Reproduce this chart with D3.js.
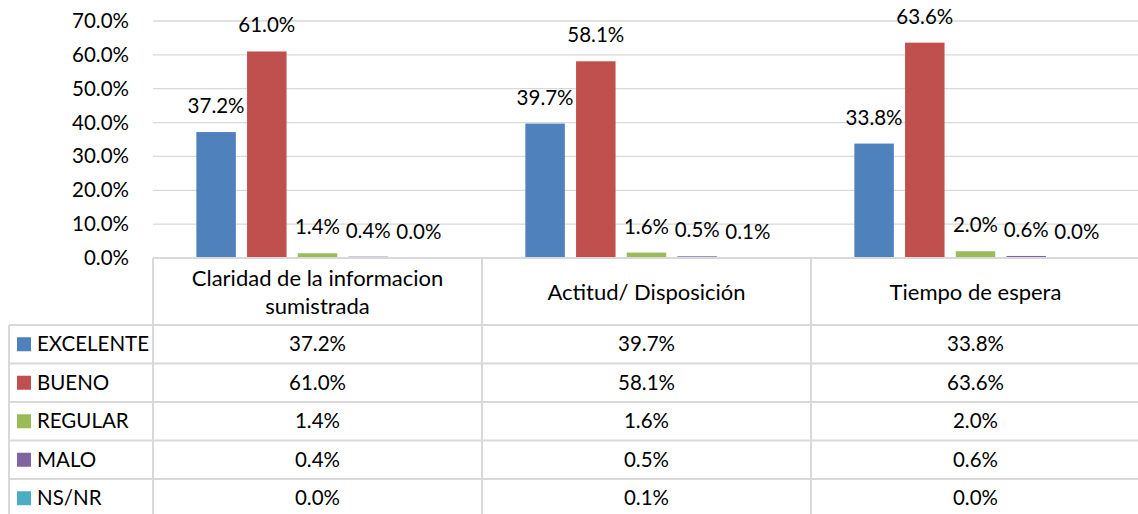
<!DOCTYPE html>
<html><head><meta charset="utf-8">
<script src="https://cdn.jsdelivr.net/npm/d3@7"></script>
<style>body{margin:0;background:#fff}svg{display:block}text{font-family:Lato,"Open Sans",sans-serif;fill:#000}</style>
</head><body><svg id="c" width="1138" height="514"></svg>
<script>
const categories = ["Claridad de la informacion sumistrada", "Actitud/ Disposición", "Tiempo de espera"];
const seriesNames = ["EXCELENTE", "BUENO", "REGULAR", "MALO", "NS/NR"];
const excelente = [37.2, 39.7, 33.8];
const bueno = [61.0, 58.1, 63.6];
const regular = [1.4, 1.6, 2.0];
const malo = [0.4, 0.5, 0.6];
const nsnr = [0.0, 0.1, 0.0];
const yTicks = [0, 10, 20, 30, 40, 50, 60, 70];
const colors = ["#4F81BD", "#C0504D", "#9BBB59", "#8064A2", "#4BACC6"];
const seriesValues = [excelente, bueno, regular, malo, nsnr];

const svg = d3.select("#c");
const fs = 20.5, fsHead = 22;
const plotLeft = 153, plotRight = 1140, yTop = 21, yBase = 258;
const tableLeft = 9, headerBottom = 325, rowH = 38.5;
const grid = "#d9d9d9";

const x0 = d3.scaleBand().domain(categories).range([plotLeft, plotRight]).padding(0);
const x1 = d3.scaleBand().domain(seriesNames).range([0, x0.bandwidth()]).paddingInner(0.221).paddingOuter(0.855);
const y = d3.scaleLinear().domain([0, 70]).range([yBase, yTop]);
const fmt = v => v.toFixed(1) + "%";

// axis labels and gridlines
const yAxis = d3.axisLeft(y).tickValues(yTicks).tickFormat(fmt).tickSize(0).tickPadding(24);
const ga = svg.append("g").attr("transform", `translate(${plotLeft},0)`).call(yAxis);
ga.select(".domain").remove();
ga.selectAll("text").attr("font-size", fs).attr("font-family", "Lato").attr("fill", "#000");
svg.append("g").selectAll("line").data(yTicks.filter(t => t > 0)).join("line")
  .attr("x1", plotLeft).attr("x2", 1138).attr("y1", d => y(d)).attr("y2", d => y(d))
  .attr("stroke", grid).attr("stroke-width", 1.3);

// bars
const groups = svg.append("g").selectAll("g").data(categories).join("g")
  .attr("transform", d => `translate(${x0(d)},0)`);
groups.each(function(cat, ci) {
  const g = d3.select(this);
  seriesNames.forEach((s, si) => {
    const v = seriesValues[si][ci];
    g.append("rect").attr("x", x1(s)).attr("width", x1.bandwidth())
      .attr("y", y(v)).attr("height", yBase - y(v)).attr("fill", colors[si]);
  });
  seriesNames.forEach((s, si) => {
    const v = seriesValues[si][ci];
    g.append("text").attr("x", x1(s) + x1.bandwidth() / 2).attr("y", y(v) - 19)
      .attr("text-anchor", "middle").attr("font-size", fs).text(fmt(v));
  });
});

// table
const tg = svg.append("g");
const nRows = seriesNames.length;
const tableBottom = headerBottom + rowH * nRows;
tg.append("line").attr("x1", plotLeft).attr("x2", plotRight).attr("y1", yBase).attr("y2", yBase).attr("stroke", grid).attr("stroke-width", 2);
for (let r = 0; r <= nRows; r++) {
  const yy = headerBottom + r * rowH;
  tg.append("line").attr("x1", tableLeft).attr("x2", plotRight).attr("y1", yy).attr("y2", yy).attr("stroke", grid).attr("stroke-width", 2);
}
tg.append("line").attr("x1", tableLeft).attr("x2", tableLeft).attr("y1", headerBottom).attr("y2", tableBottom).attr("stroke", grid).attr("stroke-width", 2);
categories.forEach(c => {
  tg.append("line").attr("x1", x0(c)).attr("x2", x0(c)).attr("y1", yBase).attr("y2", tableBottom).attr("stroke", grid).attr("stroke-width", 2);
});
tg.append("line").attr("x1", plotRight - 1).attr("x2", plotRight - 1).attr("y1", yBase).attr("y2", tableBottom).attr("stroke", grid).attr("stroke-width", 2);

// header labels with wrapping
categories.forEach(c => {
  const cx = x0(c) + x0.bandwidth() / 2;
  const t = tg.append("text").attr("text-anchor", "middle").attr("font-size", fsHead).attr("x", cx);
  const words = c.split(" ");
  const lines = [];
  let line = [];
  const probe = tg.append("text").attr("font-size", fsHead);
  words.forEach(w => {
    const test = line.concat(w).join(" ");
    probe.text(test);
    if (probe.node().getComputedTextLength() > 300 && line.length) { lines.push(line.join(" ")); line = [w]; }
    else line.push(w);
  });
  lines.push(line.join(" "));
  probe.remove();
  const lh = 28;
  const mid = (yBase + headerBottom) / 2;
  const first = mid - (lines.length - 1) * lh / 2 + 8;
  lines.forEach((l, i) => t.append("tspan").attr("x", cx).attr("y", first + i * lh).text(l));
});

// rows
seriesNames.forEach((s, si) => {
  const cy = headerBottom + si * rowH + rowH / 2;
  tg.append("rect").attr("x", 17).attr("y", cy - 7).attr("width", 14).attr("height", 14).attr("fill", colors[si]);
  tg.append("text").attr("x", 37).attr("y", cy + 7).attr("font-size", fs).text(s);
  categories.forEach((c, ci) => {
    tg.append("text").attr("x", x0(c) + x0.bandwidth() / 2).attr("y", cy + 7)
      .attr("text-anchor", "middle").attr("font-size", fs).text(fmt(seriesValues[si][ci]));
  });
});
</script></body></html>
